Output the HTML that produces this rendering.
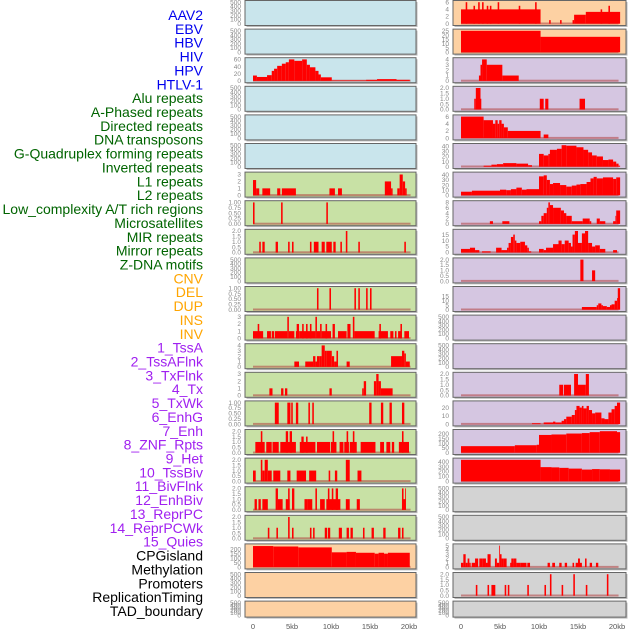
<!DOCTYPE html>
<html><head><meta charset="utf-8"><style>
body{margin:0;background:#fff;}
svg{display:block;font-family:"Liberation Sans",sans-serif;}
</style></head><body>
<svg id="chart" width="630" height="630" viewBox="0 0 630 630"></svg>
<script>
// ---- tick label sets ----
const ticksEmpty = ["0","100","200","300","400","500"];
const ticks0to3 = ["0","1","2","3"];
const ticks0to4 = ["0","1","2","3","4"];
const ticksFrac1 = ["0.00","0.25","0.50","0.75","1.00"];
const ticksFrac2 = ["0.0","0.5","1.0","1.5","2.0"];
const ticks0to60 = ["0","20","40","60"];
const ticks0to200 = ["0","50","100","150","200"];
const ticks0to6 = ["0","2","4","6"];
const ticks0to25 = ["0","5","10","15","20","25"];
const ticks0to40 = ["0","10","20","30","40"];
const ticks0to8 = ["0","2","4","6","8"];
const ticks0to15 = ["0","5","10","15"];
const ticks0to20 = ["0","10","20"];
const ticks0to400 = ["0","100","200","300","400"];
const ticks0to5 = ["0","1","2","3","4","5"];
const xTickLabels = ["0","5kb","10kb","15kb","20kb"];
const xTickValues = [0,5,10,15,20];

// ---- row labels ----
const rowLabels = ["AAV2","EBV","HBV","HIV","HPV","HTLV-1","Alu repeats","A-Phased repeats","Directed repeats","DNA transposons","G-Quadruplex forming repeats","Inverted repeats","L1 repeats","L2 repeats","Low_complexity A/T rich regions","Microsatellites","MIR repeats","Mirror repeats","Z-DNA motifs","CNV","DEL","DUP","INS","INV","1_TssA","2_TssAFlnk","3_TxFlnk","4_Tx","5_TxWk","6_EnhG","7_Enh","8_ZNF_Rpts","9_Het","10_TssBiv","11_BivFlnk","12_EnhBiv","13_ReprPC","14_ReprPCWk","15_Quies","CPGisland","Methylation","Promoters","ReplicationTiming","TAD_boundary"];
const rowLabelGroups = [6,13,5,15,5];

// ---- series: [startKb, endKb, value] ----
const leftHiv = [[0,0.5,15],[0.5,1.8,11],[1.8,2.4,16],[2.4,2.7,28],[2.7,3.1,34],[3.1,3.7,42],[3.7,4.2,48],[4.2,4.6,52],[4.6,5.3,60],[5.3,6.3,56],[6.3,6.9,60],[6.9,7.3,45],[7.3,8.0,38],[8.0,8.4,28],[8.4,8.7,18],[8.7,10.1,10],[10.1,14.5,1.5],[14.5,15.9,3],[15.9,18.4,5],[18.4,20.1,3]];
const leftL1 = [[0,0.4,2.2],[0.4,0.8,1],[1.2,2.2,1],[3.1,3.5,1],[3.7,5.5,1],[9.8,10.5,1],[10.9,11.4,1],[16.9,17.7,2],[17.7,17.9,1],[18.5,18.8,1],[18.8,19.2,3],[19.2,19.5,2],[19.5,19.7,1]];
const leftL2 = [[0,0.2,1],[3.6,3.8,1],[9.4,9.6,1]];
const leftLowAT = [[0.8,1.0,1],[1.2,1.5,1],[2.9,3.2,1],[4.5,4.7,1],[5.0,5.2,1],[7.3,7.5,1],[7.8,8.4,1],[8.8,9.2,1],[9.4,10.1,1],[10.3,10.6,1],[11.2,11.4,1],[11.9,12.1,2],[13.5,13.7,1],[19.4,19.6,1]];
const leftMIR = [[8.2,8.4,1],[9.8,10.0,1],[13.0,13.2,1],[13.5,13.7,1],[14.5,14.7,1],[15.0,15.2,1]];
const leftZDNA = [[0,1.3,1],[0.6,0.8,2],[1.8,2.3,1],[2.4,2.7,1],[2.8,4.4,1],[4.4,4.6,3],[4.6,5.3,1],[5.5,6.0,1],[5.6,5.9,2],[6.0,8.0,1],[6.3,6.5,2],[6.8,7.0,2],[7.3,7.5,2],[8.0,8.2,3],[8.2,8.6,1],[8.6,8.8,2],[8.8,10.0,1],[9.3,9.5,2],[10.2,10.5,2],[10.9,12.0,1],[12.1,12.5,2],[12.8,13.0,3],[13.0,15.6,1],[16.1,17.3,1],[16.2,16.4,2],[17.6,18.0,1],[18.2,18.4,1],[18.6,19.0,1],[18.9,19.1,2],[19.4,20.0,1]];
const leftCNV = [[5.3,5.9,1],[6.7,7.7,1],[7.7,8.0,2],[8.0,8.4,1],[8.2,8.5,2],[8.5,8.8,2],[8.8,9.2,4],[9.2,9.4,3],[9.4,10.1,3],[10.1,10.4,2],[10.4,10.7,1],[10.7,10.9,3],[12.0,12.4,1],[17.7,19.1,2],[19.1,19.4,3],[19.4,19.6,2.5],[19.6,20.1,1]];
const leftDEL = [[2.1,2.5,1],[3.6,3.9,1],[4.1,4.4,1],[9.8,10.1,1],[14.0,14.2,1],[14.2,14.5,2],[15.5,15.8,2],[15.8,16.1,3],[16.1,16.4,2],[16.4,17.9,1]];
const leftDUP = [[2.8,3.3,1],[4.4,4.8,1],[4.9,5.1,1],[5.5,5.8,1],[7.1,7.3,1],[7.6,7.8,1],[14.9,15.2,1],[16.4,16.7,1],[17.5,17.8,1],[19.1,19.4,1]];
const leftINS = [[0.3,1.5,1],[1.0,1.2,2],[1.7,2.4,1],[2.5,3.3,1],[3.5,5.5,1],[4.2,4.5,2],[4.7,5.0,2],[6.0,8.0,1],[6.2,6.5,1.5],[6.8,7.0,1.5],[8.2,9.9,1],[10.0,10.7,1],[10.2,10.4,2],[11.1,11.6,1],[11.7,12.3,1],[12.0,12.2,2],[12.4,13.3,1],[12.8,13.0,2],[13.8,15.7,1],[16.3,16.8,1],[17.1,17.6,1],[17.8,18.1,1],[18.7,20.0,1],[19.1,19.3,2]];
const leftINV = [[0,0.35,1],[1.0,1.2,2],[1.2,1.5,1],[1.5,1.9,2],[1.9,2.4,1],[2.6,3.5,1],[4.4,4.8,1],[5.6,6.8,1],[7.2,8.1,1],[9.7,9.9,1],[10.5,10.8,1],[11.9,12.4,2],[13.4,13.9,1]];
const leftTssA = [[0.2,0.5,1],[0.7,1.0,1],[1.2,1.9,1],[2.9,3.2,2],[3.2,3.8,1],[4.2,4.7,1],[4.5,4.7,2],[5.0,5.3,2],[6.6,7.0,1],[7.0,7.6,1],[8.0,8.2,2],[8.6,9.2,1],[9.4,11.2,1],[9.6,9.8,2],[10.1,10.3,2],[10.6,10.9,2],[11.9,12.4,1],[13.3,13.7,1],[19.1,19.6,1],[19.1,19.3,2],[19.5,19.6,2]];
const leftTssAFlnk = [[1.9,2.1,1],[3.0,3.2,1],[4.5,4.7,2],[5.0,5.2,1],[7.3,7.5,1],[7.7,7.9,1],[9.2,9.5,1],[9.6,9.9,1],[11.0,11.4,1],[12.0,12.3,1],[12.5,12.8,1],[14.1,14.3,1],[15.2,15.5,1],[16.7,17.0,1],[18.6,18.9,1],[19.1,19.3,1]];
const leftTxFlnk = [[0,2.6,235],[2.6,5.8,230],[5.8,10.1,220],[10.1,12.0,165],[12.0,13.2,170],[13.2,15.6,160],[15.6,16.1,150],[16.1,16.8,160],[16.8,17.3,150],[17.3,20.1,160]];

const rightAAV = [[0,10.2,4],[0.6,0.8,6],[1.6,1.8,5],[2.2,2.4,6],[2.7,2.9,6],[3.3,3.5,5],[3.7,3.9,5],[4.7,4.9,6],[7.4,7.6,5],[9.5,9.7,6],[11.3,11.5,1],[12.7,12.9,1],[14.3,14.5,1],[14.5,16.0,2.5],[16.0,20.4,3.3],[17.9,18.1,4],[18.9,19.1,5]];
const rightEBV = [[0,10.2,25],[10.2,20.4,18]];
const rightHIV = [[2.3,2.5,1],[2.5,2.7,3],[2.7,3.3,4],[3.3,5.3,3],[5.3,7.4,1]];
const rightHPV = [[1.7,1.9,1],[1.9,2.5,2],[2.5,2.6,1],[10.1,10.6,1],[10.8,11.2,1],[15.2,15.9,1]];
const rightHTLV = [[0,2.9,6],[2.9,4.1,5],[4.1,4.4,4],[4.4,4.7,5],[4.7,4.9,4],[4.9,5.2,5],[5.2,5.5,4],[5.5,6.0,3],[6.0,10.2,2],[10.6,11.2,1]];
const rightAlu = [[2.9,3.9,2],[3.9,4.6,4],[4.6,5.4,5],[5.4,7.1,7],[7.1,8.6,6],[8.6,9.1,3],[10.0,10.6,25],[10.6,11.2,22],[11.2,11.4,25],[11.4,12.3,33],[12.3,12.9,35],[12.9,13.5,42],[13.5,14.8,41],[14.8,15.7,38],[15.7,16.3,33],[16.3,16.8,28],[16.8,17.4,22],[17.4,18.2,20],[18.2,18.9,13],[18.9,19.5,14],[19.5,19.9,10],[19.9,20.2,6],[20.2,20.4,2]];
const rightAPhased = [[0,1.4,7],[1.4,5.0,9],[5.0,5.8,11],[5.8,6.4,10],[6.4,7.1,12],[7.1,7.8,15],[7.8,8.4,11],[8.4,10.0,12],[10.0,10.6,37],[10.6,11.0,39],[11.0,11.4,30],[11.4,11.8,22],[11.8,12.7,24],[12.7,13.5,20],[13.5,14.2,17],[14.2,14.8,19],[14.8,15.3,21],[15.3,16.1,22],[16.1,16.6,26],[16.6,17.0,33],[17.0,17.4,36],[17.4,18.2,33],[18.2,19.5,35],[19.5,19.9,32],[19.9,20.4,35]];
const rightDirected = [[3.7,4.1,1],[5.3,6.2,1],[10.0,10.3,1],[10.3,10.6,3],[10.6,11.0,4],[11.0,11.2,6],[11.2,11.4,8],[11.4,11.8,7],[11.8,12.8,6],[12.8,13.2,5],[13.2,13.5,4],[13.5,14.2,3],[14.2,15.6,1],[15.6,16.5,2],[16.5,16.7,1],[17.4,17.8,2],[17.8,18.5,1],[19.5,19.8,1],[19.8,19.9,3],[19.9,20.4,5]];
const rightDNAtrans = [[0,1.15,3],[1.15,1.8,4],[1.8,2.35,2],[2.7,3.8,1],[4.5,5.2,4],[5.2,5.9,2],[5.9,6.1,4],[6.1,6.4,8],[6.4,6.7,13],[6.7,6.9,15],[6.9,7.1,10],[7.1,7.6,8],[7.6,8.2,9],[8.2,8.5,6],[8.5,8.7,4],[8.7,9.0,1],[10.0,10.6,3],[10.6,10.9,2],[10.9,11.8,4],[11.8,12.5,7],[12.5,12.9,10],[12.9,13.3,7],[13.3,13.8,10],[13.8,14.1,8],[14.1,14.3,5],[14.3,14.6,15],[14.6,15.0,18],[15.0,15.5,8],[15.5,15.9,16],[15.9,16.3,18],[16.3,16.8,8],[16.8,17.2,5],[17.2,17.8,6],[17.8,18.5,3],[19.5,20.0,2]];
const rightGQuad = [[15.3,15.7,2],[16.8,17.2,1]];
const rightInverted = [[15.5,17.4,3],[17.4,17.6,5],[17.6,18.0,7],[18.0,18.2,5],[18.2,18.7,4],[18.7,19.1,3],[19.1,19.3,5],[19.3,19.7,6],[19.7,20.0,10],[20.0,20.1,13],[20.1,20.4,24]];
const rightLowAT = [[12.6,13.1,1],[13.2,14.1,1],[14.5,15.0,2],[15.0,16.0,1],[16.0,16.4,2]];
const rightMicro = [[9.1,10.2,1],[10.6,11.8,2],[11.8,12.1,3],[12.1,12.9,2],[12.9,13.2,4],[13.2,13.5,6],[13.5,14.2,9],[14.2,14.6,11],[14.6,14.8,17],[14.8,15.2,22],[15.2,15.5,20],[15.5,15.7,22],[15.7,16.1,19],[16.1,16.4,22],[16.4,16.8,17],[16.8,17.2,13],[17.2,18.0,14],[18.0,18.4,7],[18.4,18.9,6],[18.9,19.3,14],[19.3,19.7,18],[19.7,20.0,22],[20.0,20.4,26]];
const rightMIR = [[0,6.9,70],[6.9,9.7,80],[9.7,10.0,85],[10.0,11.6,190],[11.6,13.5,195],[13.5,15.5,205],[15.5,16.5,210],[16.5,17.8,220],[17.8,20.0,230],[20.0,20.4,220]];
const rightMirror = [[0,10.2,440],[10.2,11.6,290],[11.6,12.6,285],[12.6,13.8,275],[13.8,15.5,260],[15.5,16.8,240],[16.8,17.8,250],[17.8,19.1,245],[19.1,20.4,240]];
const rightCpG = [[0,0.3,1],[0.3,0.6,3],[0.6,0.85,1],[0.85,1.07,2],[1.07,1.24,1],[1.37,1.8,1],[1.8,2.2,2],[2.35,2.8,2],[2.8,3.2,2],[3.2,3.4,1],[3.4,3.8,3],[4.35,4.6,2],[4.6,4.9,1],[4.9,5.0,5],[5.0,5.2,3],[5.2,5.4,2],[5.4,5.85,2],[6.3,6.7,1],[6.45,6.7,2],[6.7,7.1,2],[7.1,7.6,1],[7.6,8.4,1],[8.5,8.85,1],[11.1,11.4,1],[11.7,12.05,1],[12.6,12.9,1],[13.3,13.6,1],[14.3,14.5,1],[14.7,15.5,1],[15.0,15.25,2],[15.9,16.1,2],[16.5,16.8,1],[17.3,17.6,1]];
const rightMethyl = [[1.9,2.1,1],[3.4,3.6,1],[3.9,4.4,1],[5.6,5.8,1],[6.0,6.2,1],[8.5,8.7,1],[10.7,10.9,1],[11.4,11.6,2],[12.9,13.1,1],[14.4,14.6,2],[16.0,16.2,1],[18.7,18.9,2]];

// panel definitions: [series, yMax, ticks, bg]
const BLUE="#c9e5ec", GREEN="#c8e1a5", ORANGE="#fdd1a3", PURPLE="#d5c6e1", GRAY="#d3d3d3";
const leftPanels = [
 [null,500,ticksEmpty,BLUE],[null,500,ticksEmpty,BLUE],[leftHiv,60,ticks0to60,BLUE],
 [null,500,ticksEmpty,BLUE],[null,500,ticksEmpty,BLUE],[null,500,ticksEmpty,BLUE],
 [leftL1,3.1,ticks0to3,GREEN],[leftL2,1,ticksFrac1,GREEN],[leftLowAT,2,ticksFrac2,GREEN],
 [null,500,ticksEmpty,GREEN],[leftMIR,1,ticksFrac1,GREEN],[leftZDNA,3,ticks0to3,GREEN],
 [leftCNV,4,ticks0to4,GREEN],[leftDEL,3,ticks0to3,GREEN],[leftDUP,1,ticksFrac1,GREEN],
 [leftINS,2,ticksFrac2,GREEN],[leftINV,2,ticksFrac2,GREEN],[leftTssA,2,ticksFrac2,GREEN],
 [leftTssAFlnk,2,ticksFrac2,GREEN],[leftTxFlnk,240,ticks0to200,ORANGE],
 [null,500,ticksEmpty,ORANGE],[null,500,ticksEmpty,ORANGE]];
const rightPanels = [
 [rightAAV,6,ticks0to6,ORANGE],[rightEBV,25,ticks0to25,ORANGE],[rightHIV,4,ticks0to4,PURPLE],
 [rightHPV,2,ticksFrac2,PURPLE],[rightHTLV,6,ticks0to6,PURPLE],[rightAlu,42,ticks0to40,PURPLE],
 [rightAPhased,42,ticks0to40,PURPLE],[rightDirected,8,ticks0to8,PURPLE],[rightDNAtrans,18,ticks0to15,PURPLE],
 [rightGQuad,2,ticksFrac2,PURPLE],[rightInverted,24,ticks0to15,PURPLE],[null,500,ticksEmpty,PURPLE],
 [null,500,ticksEmpty,PURPLE],[rightLowAT,2,ticksFrac2,PURPLE],[rightMicro,26,ticks0to20,PURPLE],
 [rightMIR,230,ticks0to200,PURPLE],[rightMirror,440,ticks0to400,PURPLE],[null,500,ticksEmpty,GRAY],
 [null,500,ticksEmpty,GRAY],[rightCpG,5,ticks0to5,GRAY],[rightMethyl,2,ticksFrac2,GRAY],[null,500,ticksEmpty,GRAY]];

const NS="http://www.w3.org/2000/svg";
const svg=document.getElementById('chart');
function mk(tag,attrs,parent){const e=document.createElementNS(NS,tag);for(const k in attrs)e.setAttribute(k,attrs[k]);(parent||svg).appendChild(e);return e;}

// row labels
const groupColors=["#0000ee","#006400","#ffa500","#a020f0","#000000"];
let gi=0,gc=0;
rowLabels.forEach((lab,i)=>{
  const t=mk('text',{x:203,y:15+i*13.86+5,'text-anchor':'end','font-size':'14',fill:groupColors[gi]});
  
  
  t.textContent=lab;
  gc++; if(gc>=rowLabelGroups[gi]){gi++;gc=0;}
});

function drawColumn(panels,boxX,boxW,x0,side){
  const xs=kb=>x0+kb*7.8;
  panels.forEach((p,i)=>{
    const [series,yMax,ticks,bg]=p;
    const top=i*28.6+0.5, h=(i===21)?16:25;
    const y0=top+h-1.8, span=h-3.5;
    const ys=v=>y0-v/yMax*span;
    const g=mk('g',{});
    
    
    mk('rect',{x:boxX+1.5,y:top+1.5,width:boxW,height:h,fill:'#bbb'},g);
    const bgRect=mk('rect',{x:boxX,y:top,width:boxW,height:h,fill:bg,stroke:'#666','stroke-width':1},g);
    
    
    ticks.forEach(lbl=>{
      const v=parseFloat(lbl);
      const t=mk('text',{x:boxX-4,y:ys(v)+2.2,'text-anchor':'end','font-size':'6.5',fill:'#888'},g);
      
      
      t.textContent=lbl;
    });
    if(series){
      const base=mk('rect',{x:xs(0),y:y0-1.2,width:xs(20.2)-xs(0),height:2,fill:'#b04040',opacity:0.55},g);
      
      
      series.forEach(s=>{
        const r=mk('rect',{x:xs(s[0]),y:ys(s[2]),width:Math.max(0.8,xs(s[1])-xs(s[0])),height:y0-ys(s[2]),fill:'#ff0000'},g);
        
        
      });
    }
  });
  xTickValues.forEach((v,k)=>{
    const t=mk('text',{x:xs(v),y:629,'text-anchor':'middle','font-size':'7.5',fill:'#555'});
    
    
    t.textContent=xTickLabels[k];
  });
}
drawColumn(leftPanels,245,171,253,'left');
drawColumn(rightPanels,453,173,461,'right');
</script>
</body></html>
